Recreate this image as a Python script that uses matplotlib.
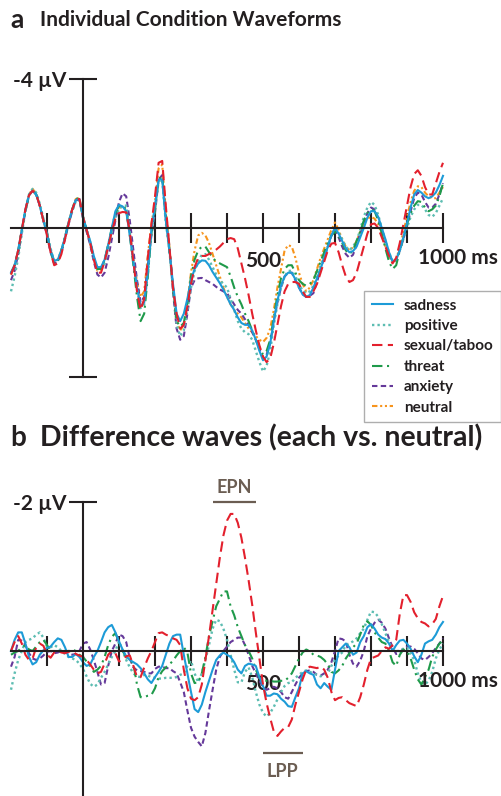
import numpy as np
import matplotlib
matplotlib.use('Agg')
import matplotlib.pyplot as plt
from matplotlib.lines import Line2D

plt.rcParams['font.family'] = ['Lato', 'DejaVu Sans']
plt.rcParams['font.weight'] = 'bold'

W, H = 502, 796
INK = '#231f20'
NOTE = '#6b5d52'

# time axis (ms), 10 ms steps
times = np.arange(-200, 1001, 10)

conditions = ['sadness', 'positive', 'sexual/taboo', 'threat', 'anxiety', 'neutral']

# panel a: grand-average waveforms (µV, negative plotted up), one row = 100 ms
sadness = [1.2, 1.0, 0.6, 0.05, -0.5, -0.88, -1.0, -0.9, -0.6, -0.2,
           0.15, 0.6, 0.88, 0.85, 0.6, 0.25, -0.15, -0.5, -0.75, -0.78,
           -0.3, 0.05, 0.35, 0.75, 1.05, 1.05, 0.85, 0.45, 0.0, -0.45,
           -0.62, -0.58, -0.45, 0.2, 0.9, 1.6, 2.1, 2.0, 1.2, 0.05,
           -0.6, -1.3, -1.3, -0.2, 0.6, 1.5, 2.3, 2.5, 2.3, 1.9,
           1.4, 1.1, 0.95, 0.87, 0.88, 1.0, 1.18, 1.33, 1.48, 1.65,
           1.85, 2.05, 2.2, 2.4, 2.55, 2.6, 2.6, 2.75, 3.0, 3.3,
           3.55, 3.45, 3.1, 2.5, 1.95, 1.55, 1.3, 1.2, 1.2, 1.38,
           1.6, 1.78, 1.85, 1.8, 1.6, 1.35, 1.1, 0.8, 0.5, 0.2,
           0.0, 0.15, 0.35, 0.55, 0.65, 0.62, 0.5, 0.25, 0.0, -0.28,
           -0.45, -0.45, -0.3, 0.0, 0.3, 0.65, 0.9, 0.85, 0.6, 0.25,
           -0.13, -0.55, -0.9, -1.02, -0.95, -0.85, -0.8, -0.85, -0.95, -1.15,
           -1.4]
positive = [1.7, 1.3, 0.8, 0.15, -0.45, -0.9, -1.05, -0.95, -0.65, -0.25,
            0.1, 0.55, 0.9, 0.85, 0.6, 0.25, -0.12, -0.45, -0.72, -0.75,
            -0.3, 0.05, 0.38, 0.8, 1.1, 1.12, 0.95, 0.55, 0.1, -0.3,
            -0.5, -0.6, -0.6, 0.1, 0.9, 1.6, 2.15, 2.05, 1.25, 0.1,
            -0.55, -1.25, -1.3, -0.15, 0.6, 1.6, 2.6, 2.9, 2.75, 2.2,
            1.6, 1.15, 0.9, 0.72, 0.7, 0.85, 1.05, 1.25, 1.4, 1.5,
            1.6, 1.9, 2.2, 2.5, 2.7, 2.8, 2.85, 3.0, 3.3, 3.6,
            3.85, 3.7, 3.3, 2.6, 2.05, 1.6, 1.3, 1.15, 1.15, 1.3,
            1.5, 1.68, 1.75, 1.7, 1.55, 1.3, 1.0, 0.75, 0.5, 0.2,
            0.0, 0.12, 0.3, 0.5, 0.6, 0.5, 0.35, 0.05, -0.3, -0.55,
            -0.7, -0.62, -0.35, 0.0, 0.35, 0.65, 0.9, 0.85, 0.6, 0.3,
            0.0, -0.3, -0.5, -0.62, -0.62, -0.5, -0.35, -0.3, -0.4, -0.6,
            -0.8]
sexual = [1.25, 1.0, 0.6, 0.05, -0.5, -0.88, -1.0, -0.9, -0.6, -0.2,
          0.2, 0.65, 1.0, 0.95, 0.7, 0.3, -0.12, -0.5, -0.75, -0.78,
          -0.3, 0.05, 0.4, 0.85, 1.2, 1.2, 0.9, 0.5, 0.1, -0.25,
          -0.4, -0.43, -0.42, 0.1, 0.9, 1.7, 2.2, 1.9, 0.8, -0.1,
          -0.85, -1.75, -1.8, -0.6, 0.5, 1.6, 2.3, 2.7, 2.6, 2.1,
          1.5, 1.05, 0.8, 0.75, 0.75, 0.7, 0.65, 0.58, 0.5, 0.4,
          0.3, 0.27, 0.3, 0.55, 0.95, 1.35, 1.8, 2.3, 2.75, 3.15,
          3.45, 3.6, 3.5, 3.1, 2.6, 2.1, 1.7, 1.5, 1.45, 1.45,
          1.5, 1.7, 1.85, 1.85, 1.7, 1.5, 1.2, 0.9, 0.6, 0.42,
          0.4, 0.65, 1.0, 1.3, 1.45, 1.4, 1.2, 0.85, 0.5, 0.15,
          -0.1, -0.12, 0.0, 0.25, 0.5, 0.75, 0.95, 0.8, 0.4, -0.1,
          -0.6, -1.1, -1.45, -1.55, -1.4, -1.1, -0.9, -0.9, -1.2, -1.5,
          -1.75]
threat = [1.2, 1.0, 0.6, 0.05, -0.45, -0.88, -1.0, -0.9, -0.6, -0.2,
          0.15, 0.62, 0.95, 0.9, 0.6, 0.25, -0.15, -0.5, -0.78, -0.8,
          -0.3, 0.05, 0.38, 0.8, 1.1, 1.1, 0.85, 0.45, 0.0, -0.4,
          -0.6, -0.6, -0.5, 0.2, 1.0, 1.85, 2.5, 2.3, 1.3, 0.15,
          -0.5, -1.3, -1.4, -0.3, 0.6, 1.6, 2.5, 2.65, 2.55, 2.0,
          1.3, 0.85, 0.6, 0.5, 0.5, 0.65, 0.8, 0.9, 0.95, 1.0,
          1.05, 1.3, 1.6, 1.85, 2.05, 2.3, 2.5, 2.75, 3.0, 3.2,
          3.4, 3.3, 3.0, 2.4, 1.8, 1.35, 1.1, 1.0, 1.0, 1.2,
          1.4, 1.5, 1.55, 1.5, 1.4, 1.15, 0.9, 0.65, 0.4, 0.2,
          0.1, 0.22, 0.4, 0.6, 0.7, 0.6, 0.35, 0.1, -0.2, -0.4,
          -0.5, -0.45, -0.2, 0.15, 0.55, 0.9, 1.1, 1.0, 0.6, 0.25,
          -0.1, -0.4, -0.6, -0.72, -0.7, -0.55, -0.45, -0.5, -0.6, -0.85,
          -1.2]
anxiety = [1.4, 1.15, 0.7, 0.1, -0.45, -0.88, -1.0, -0.9, -0.6, -0.2,
           0.2, 0.65, 0.95, 0.9, 0.65, 0.3, -0.1, -0.45, -0.75, -0.75,
           -0.25, 0.1, 0.45, 0.9, 1.25, 1.33, 1.2, 0.8, 0.3, -0.2,
           -0.7, -0.93, -0.85, -0.2, 0.6, 1.4, 2.0, 1.85, 1.0, 0.2,
           -0.4, -1.3, -1.42, -0.3, 0.5, 1.7, 2.7, 3.0, 2.9, 2.3,
           1.6, 1.4, 1.35, 1.34, 1.4, 1.45, 1.5, 1.58, 1.65, 1.7,
           1.75, 1.9, 2.05, 2.2, 2.3, 2.45, 2.6, 2.8, 3.0, 3.25,
           3.5, 3.4, 3.1, 2.5, 2.0, 1.6, 1.3, 1.2, 1.2, 1.4,
           1.6, 1.78, 1.85, 1.82, 1.75, 1.45, 1.1, 0.8, 0.5, 0.2,
           0.05, 0.25, 0.5, 0.7, 0.8, 0.72, 0.45, 0.15, -0.15, -0.4,
           -0.55, -0.5, -0.25, 0.05, 0.4, 0.7, 0.9, 0.85, 0.6, 0.3,
           -0.05, -0.45, -0.8, -0.95, -0.9, -0.7, -0.55, -0.55, -0.65, -0.9,
           -1.2]
neutral = [1.25, 1.0, 0.6, 0.05, -0.45, -0.9, -1.05, -0.92, -0.6, -0.2,
           0.15, 0.6, 0.9, 0.85, 0.6, 0.25, -0.15, -0.5, -0.78, -0.8,
           -0.3, 0.05, 0.4, 0.82, 1.15, 1.12, 0.85, 0.45, 0.0, -0.35,
           -0.55, -0.55, -0.5, 0.1, 0.8, 1.45, 1.85, 1.7, 0.75, -0.1,
           -0.7, -1.6, -1.7, -0.5, 0.5, 1.6, 2.5, 2.75, 2.6, 2.0,
           1.2, 0.6, 0.2, 0.13, 0.2, 0.4, 0.7, 1.0, 1.3, 1.6,
           1.85, 2.05, 2.2, 2.3, 2.4, 2.55, 2.7, 2.8, 2.9, 3.0,
           3.06, 2.95, 2.7, 2.2, 1.6, 1.1, 0.6, 0.46, 0.5, 0.8,
           1.2, 1.5, 1.7, 1.6, 1.4, 1.1, 0.8, 0.55, 0.3, 0.05,
           -0.15, 0.05, 0.3, 0.5, 0.6, 0.52, 0.35, 0.1, -0.1, -0.25,
           -0.3, -0.25, -0.1, 0.2, 0.5, 0.75, 0.95, 0.85, 0.5, 0.1,
           -0.3, -0.7, -1.0, -1.12, -1.1, -0.95, -0.85, -0.8, -0.8, -0.95,
           -1.1]

# panel b: difference waves (condition minus neutral, µV)
sadness_diff = [0.0, -0.15, -0.25, -0.25, -0.1, 0.08, 0.18, 0.15, 0.05, -0.01,
                -0.04, -0.06, -0.12, -0.17, -0.15, -0.05, 0.08, 0.08, 0.04, 0.08,
                0.15, 0.2, 0.18, 0.08, 0.0, -0.12, -0.25, -0.32, -0.35, -0.25,
                -0.13, -0.02, 0.07, 0.12, 0.15, 0.18, 0.23, 0.3, 0.38, 0.43,
                0.35, 0.28, 0.2, 0.05, -0.1, -0.2, -0.22, -0.22, 0.05, 0.3,
                0.55, 0.78, 0.82, 0.72, 0.55, 0.4, 0.25, 0.12, 0.06, 0.02,
                0.05, 0.08, 0.15, 0.25, 0.3, 0.2, 0.17, 0.18, 0.2, 0.35,
                0.47, 0.6, 0.6, 0.57, 0.58, 0.64, 0.68, 0.74, 0.75, 0.62,
                0.5, 0.3, 0.27, 0.3, 0.32, 0.45, 0.5, 0.43, 0.48, 0.52,
                0.25, 0.0, -0.05, -0.1, -0.05, 0.05, 0.02, -0.12, -0.2, -0.32,
                -0.36, -0.3, -0.22, -0.18, -0.16, -0.1, 0.0, -0.08, -0.14, -0.15,
                -0.1, -0.03, 0.07, 0.15, 0.05, -0.1, -0.13, -0.15, -0.22, -0.32,
                -0.39]
positive_diff = [0.52, 0.3, 0.12, 0.0, -0.12, -0.15, -0.17, -0.22, -0.25, -0.18,
                 -0.06, -0.05, -0.08, -0.05, 0.0, 0.04, 0.08, 0.1, 0.12, 0.17,
                 0.24, 0.34, 0.44, 0.48, 0.45, 0.36, 0.28, 0.18, 0.08, 0.0,
                 -0.13, 0.0, 0.12, 0.22, 0.3, 0.34, 0.35, 0.32, 0.33, 0.35,
                 0.36, 0.37, 0.37, 0.36, 0.36, 0.36, 0.35, 0.32, 0.3, 0.2,
                 0.13, 0.3, 0.42, 0.3, 0.12, -0.08, -0.3, -0.42, -0.4, -0.3,
                 -0.15, 0.05, 0.25, 0.42, 0.42, 0.28, 0.22, 0.35, 0.55, 0.72,
                 0.83, 0.88, 0.83, 0.75, 0.65, 0.55, 0.47, 0.43, 0.42, 0.36,
                 0.32, 0.28, 0.26, 0.28, 0.3, 0.32, 0.34, 0.32, 0.3, 0.2,
                 0.12, 0.06, 0.02, -0.08, -0.1, -0.13, -0.17, -0.24, -0.3, -0.42,
                 -0.53, -0.52, -0.46, -0.36, -0.24, -0.12, -0.02, 0.0, 0.0, -0.03,
                 -0.04, 0.03, 0.12, 0.3, 0.42, 0.45, 0.4, 0.28, 0.1, -0.02,
                 -0.1]
sexual_diff = [0.0, -0.12, -0.2, -0.1, 0.05, 0.12, 0.1, -0.05, -0.1, -0.07,
               0.05, 0.09, 0.02, 0.0, 0.02, 0.03, 0.01, 0.0, 0.04, 0.06,
               0.08, 0.12, 0.18, 0.25, 0.3, 0.28, 0.17, 0.05, 0.0, 0.03,
               0.14, 0.12, 0.07, 0.06, 0.2, 0.35, 0.35, 0.22, 0.1, 0.0,
               -0.12, -0.24, -0.25, -0.22, -0.2, -0.17, -0.15, -0.08, 0.25, 0.5,
               0.64, 0.66, 0.62, 0.45, 0.12, -0.2, -0.55, -0.9, -1.25, -1.55,
               -1.75, -1.84, -1.84, -1.72, -1.52, -1.25, -0.95, -0.62, -0.25, 0.1,
               0.45, 0.7, 0.9, 1.08, 1.14, 1.08, 1.03, 1.02, 0.92, 0.72,
               0.55, 0.38, 0.25, 0.21, 0.22, 0.23, 0.21, 0.25, 0.36, 0.55,
               0.66, 0.63, 0.62, 0.66, 0.7, 0.72, 0.74, 0.62, 0.45, 0.25,
               0.1, 0.08, 0.06, 0.0, -0.05, -0.03, -0.08, -0.15, -0.5, -0.75,
               -0.75, -0.66, -0.52, -0.44, -0.39, -0.37, -0.33, -0.36, -0.43, -0.6,
               -0.74]
threat_diff = [0.05, 0.02, 0.0, -0.05, -0.08, -0.02, 0.0, -0.06, -0.12, -0.15,
               -0.08, 0.0, 0.0, 0.0, 0.01, 0.0, 0.0, -0.02, 0.0, 0.05,
               0.08, 0.14, 0.2, 0.28, 0.25, 0.2, 0.08, -0.08, -0.19, -0.24,
               -0.12, 0.0, 0.08, 0.12, 0.17, 0.45, 0.62, 0.62, 0.6, 0.59,
               0.5, 0.35, 0.27, 0.22, 0.18, 0.13, 0.06, 0.0, -0.05, 0.02,
               0.3, 0.43, 0.42, 0.3, 0.08, -0.2, -0.4, -0.6, -0.7, -0.8,
               -0.8, -0.6, -0.48, -0.32, -0.2, -0.08, 0.0, 0.1, 0.25, 0.36,
               0.39, 0.4, 0.4, 0.41, 0.41, 0.4, 0.4, 0.36, 0.3, 0.2,
               0.1, 0.02, -0.02, 0.0, 0.05, 0.06, 0.08, 0.12, 0.18, 0.28,
               0.3, 0.26, 0.2, 0.1, 0.03, -0.05, -0.1, -0.22, -0.35, -0.4,
               -0.35, -0.25, -0.18, -0.12, -0.1, 0.0, 0.15, 0.2, 0.05, -0.02,
               0.0, 0.1, 0.25, 0.38, 0.45, 0.35, 0.25, 0.08, -0.02, -0.1,
               -0.14]
anxiety_diff = [0.21, 0.08, -0.15, -0.14, -0.08, 0.03, 0.1, 0.12, 0.1, 0.06,
                0.01, 0.0, 0.03, 0.02, 0.0, 0.02, 0.03, 0.05, 0.04, 0.0,
                -0.1, -0.12, -0.02, 0.12, 0.28, 0.45, 0.43, 0.2, 0.0, -0.1,
                -0.22, -0.2, -0.12, 0.1, 0.22, 0.26, 0.27, 0.28, 0.3, 0.3,
                0.24, 0.21, 0.21, 0.23, 0.23, 0.27, 0.3, 0.42, 0.55, 0.8,
                1.03, 1.15, 1.22, 1.28, 1.1, 0.8, 0.52, 0.25, 0.08, 0.0,
                -0.06, -0.12, -0.15, -0.18, -0.18, -0.08, 0.05, 0.2, 0.3, 0.4,
                0.48, 0.52, 0.5, 0.48, 0.5, 0.55, 0.62, 0.64, 0.55, 0.45,
                0.36, 0.3, 0.27, 0.26, 0.28, 0.32, 0.33, 0.3, 0.25, 0.15,
                0.0, -0.17, -0.16, -0.13, 0.05, 0.17, 0.21, 0.13, 0.0, -0.2,
                -0.3, -0.38, -0.42, -0.38, -0.3, -0.17, -0.05, 0.04, 0.03, -0.04,
                -0.06, -0.06, -0.03, 0.03, 0.1, 0.12, 0.08, 0.03, -0.04, -0.1,
                -0.17]

epn_window = [360, 480]
lpp_window = [500, 610]

colors = {'sadness': '#1d9bd7', 'positive': '#5dbdb2', 'sexual/taboo': '#e3202d',
          'threat': '#1f9a4a', 'anxiety': '#65399a', 'neutral': '#f7941d'}
styles = {'sadness': '-', 'positive': (0, (1, 1.3)), 'sexual/taboo': (0, (5, 2.6)),
          'threat': (0, (5, 2.2, 1, 2.2)), 'anxiety': (0, (2.6, 1.6)),
          'neutral': (0, (2.6, 1.3, 1, 1.3, 1, 1.3))}
widths = {'sadness': 1.5, 'positive': 1.7, 'sexual/taboo': 1.5,
          'threat': 1.5, 'anxiety': 1.5, 'neutral': 1.5}

waves = {'sadness': sadness, 'positive': positive, 'sexual/taboo': sexual,
         'threat': threat, 'anxiety': anxiety, 'neutral': neutral}
diffs = {'sadness': sadness_diff, 'positive': positive_diff, 'sexual/taboo': sexual_diff,
         'threat': threat_diff, 'anxiety': anxiety_diff}

draw_order = ['neutral', 'anxiety', 'positive', 'threat', 'sadness', 'sexual/taboo']

fig = plt.figure(figsize=(W / 100, H / 100), dpi=100)


def px_axes(x0, x1, y0, y1):
    return fig.add_axes([x0 / W, 1 - y1 / H, (x1 - x0) / W, (y1 - y0) / H])


def style_axes(ax, ylim, ybounds, ytick, ylab):
    ax.set_xlim(-200, 1000)
    ax.set_ylim(*ylim)
    for s in ['top', 'right']:
        ax.spines[s].set_visible(False)
    ax.spines['left'].set_position(('data', 0))
    ax.spines['bottom'].set_position(('data', 0))
    for s in ['left', 'bottom']:
        ax.spines[s].set_linewidth(1.5)
        ax.spines[s].set_color(INK)
    ax.spines['left'].set_bounds(*ybounds)
    ax.spines['bottom'].set_bounds(-200, 1000)
    ticks = [t for t in range(-100, 1001, 100) if t != 0]
    ax.set_xticks(ticks)
    ax.set_xticklabels(['500' if t == 500 else '' for t in ticks])
    ax.tick_params(axis='x', direction='inout', length=21, width=1.5, color=INK,
                   pad=6, labelsize=15, labelcolor=INK)
    ax.set_yticks(ytick)
    ax.set_yticklabels([ylab] + [''] * (len(ytick) - 1))
    ax.tick_params(axis='y', direction='inout', length=20, width=1.5, color=INK,
                   pad=2, labelsize=15, labelcolor=INK)
    ax.annotate('1000 ms', xy=(1000, 0), xytext=(-25, -30), textcoords='offset pixels',
                ha='left', va='center', fontsize=15, color=INK, annotation_clip=False)
    ax.patch.set_visible(False)


# panel a
ax_a = px_axes(11, 443, 79, 377)
style_axes(ax_a, (4, -4), (-4, 4), [-4, 4], '-4 µV')
for c in draw_order:
    ax_a.plot(times, waves[c], color=colors[c], ls=styles[c], lw=widths[c], clip_on=False)

handles = [Line2D([], [], color=colors[c], ls=styles[c], lw=widths[c]) for c in conditions]
leg = ax_a.legend(handles, conditions, loc='upper left',
                  bbox_to_anchor=(364 / W, 1 - 291 / H), bbox_transform=fig.transFigure,
                  fontsize=11, frameon=True, fancybox=False, edgecolor='#9a9a9a',
                  handlelength=1.4, handletextpad=0.7, labelspacing=0.42,
                  borderpad=0.5, borderaxespad=0)
leg.get_frame().set_linewidth(1.0)
for t in leg.get_texts():
    t.set_color(INK)

# panel b
ax_b = px_axes(11, 443, 502, 796)
style_axes(ax_b, (1.946, -2), (-2, 1.946), [-2], '-2 µV')
for c in draw_order:
    if c in diffs:
        ax_b.plot(times, diffs[c], color=colors[c], ls=styles[c], lw=widths[c], clip_on=False)

ax_b.hlines(-2.0, *epn_window, color=NOTE, lw=1.6, clip_on=False)
ax_b.text(np.mean(epn_window), -2.2, 'EPN', ha='center', va='center', fontsize=13,
          color=NOTE, clip_on=False)
ax_b.hlines(1.37, *lpp_window, color=NOTE, lw=1.6, clip_on=False)
ax_b.text(np.mean(lpp_window), 1.62, 'LPP', ha='center', va='center', fontsize=13,
          color=NOTE, clip_on=False)

# panel titles
fig.text(10 / W, 1 - 20 / H, 'a', fontsize=19, ha='left', va='center', color=INK)
fig.text(40 / W, 1 - 20 / H, 'Individual Condition Waveforms', fontsize=15,
         ha='left', va='center', color=INK)
fig.text(10 / W, 1 - 438 / H, 'b', fontsize=20, ha='left', va='center', color=INK)
fig.text(40 / W, 1 - 438 / H, 'Difference waves (each vs. neutral)', fontsize=20.5,
         ha='left', va='center', color=INK)

fig.savefig('out.png', dpi=100, facecolor='white')
